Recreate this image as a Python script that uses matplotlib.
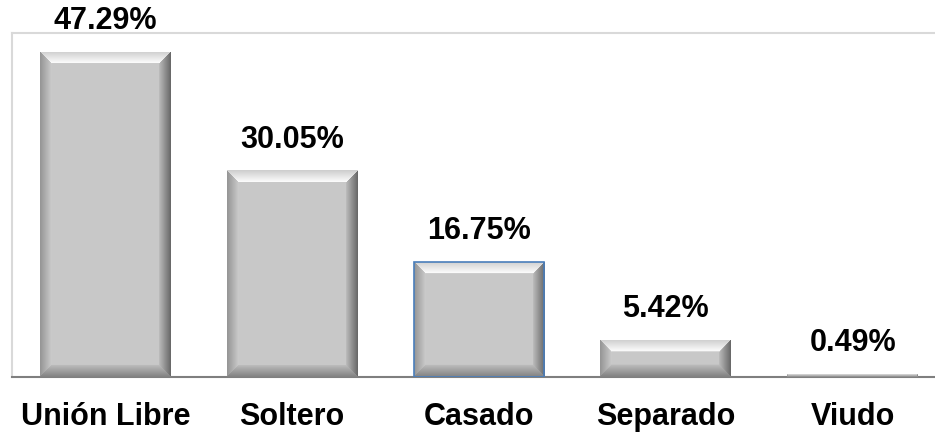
import numpy as np
import matplotlib
matplotlib.use("Agg")
import matplotlib.pyplot as plt

# Estado civil, porcentaje
categories = ["Unión Libre", "Soltero", "Casado", "Separado", "Viudo"]
values = [47.29, 30.05, 16.75, 5.42, 0.49]
labels = ["47.29%", "30.05%", "16.75%", "5.42%", "0.49%"]


def bevel_shade(wpx, hpx, b=12):
    # gray beveled look like the old Excel bars
    wpx = max(int(round(wpx)), 2)
    hpx = max(int(round(hpx)), 2)
    b = max(min(b, hpx / 2.0, wpx / 2.0), 1)
    yy, xx = np.mgrid[0:hpx, 0:wpx] + 0.5
    dists = np.stack([yy, hpx - yy, xx, wpx - xx])  # top, bottom, left, right
    side = np.argmin(dists, axis=0)
    d = np.min(dists, axis=0)
    t = np.clip(d / b, 0, 1)
    base = 0.785
    edge = np.array([0.80, 0.50, 0.58, 0.40])
    inner = np.array([0.99, 0.74, 0.80, 0.74])
    shade = edge[side] + (inner[side] - edge[side]) * t
    shade = np.where(d >= b, base, shade)
    return np.dstack([shade, shade, shade])


fig = plt.figure(figsize=(9.35, 4.34), dpi=100)
ax = fig.add_axes([12 / 935, 57 / 434, 934 / 935, 344 / 434])

x = np.arange(len(categories))
bars = ax.bar(x, values, width=0.70, color="#c8c8c8", edgecolor="none", zorder=2)
ax.set_xlim(-0.5, len(categories) - 0.5)
ax.set_ylim(0, 50)

# shading images clipped to each bar
for i, bar in enumerate(bars):
    x0, y0 = bar.get_x(), bar.get_y()
    w, h = bar.get_width(), bar.get_height()
    p0 = ax.transData.transform((x0, y0))
    p1 = ax.transData.transform((x0 + w, y0 + h))
    img = bevel_shade(p1[0] - p0[0], p1[1] - p0[1])
    im = ax.imshow(img, extent=(x0, x0 + w, y0, y0 + h), aspect="auto",
                   interpolation="bilinear", zorder=3)
    im.set_clip_path(bar)

# Casado bar has the blue selection outline
bars[2].set_edgecolor("#4a7ebb")
bars[2].set_linewidth(1.2)
bars[2].set_zorder(4)
bars[2].set_facecolor("none")

for xi, v, lab in zip(x, values, labels):
    ax.annotate(lab, (xi, v), xytext=(0, 11), textcoords="offset points",
                ha="center", va="bottom", fontsize=22, fontweight="bold",
                family="Liberation Sans", color="black")

ax.set_xticks(x)
ax.set_xticklabels(categories, fontsize=22, fontweight="bold", family="Liberation Sans")
ax.tick_params(axis="x", length=0, pad=18)
ax.set_yticks([])

ax.spines["top"].set_color("#d9d9d9")
ax.spines["left"].set_color("#d9d9d9")
ax.spines["right"].set_visible(False)
ax.spines["bottom"].set_color("#7f7f7f")
ax.spines["bottom"].set_linewidth(1.5)
ax.spines["top"].set_linewidth(1.5)
ax.spines["left"].set_linewidth(1.5)

fig.savefig("out.png", dpi=100)
